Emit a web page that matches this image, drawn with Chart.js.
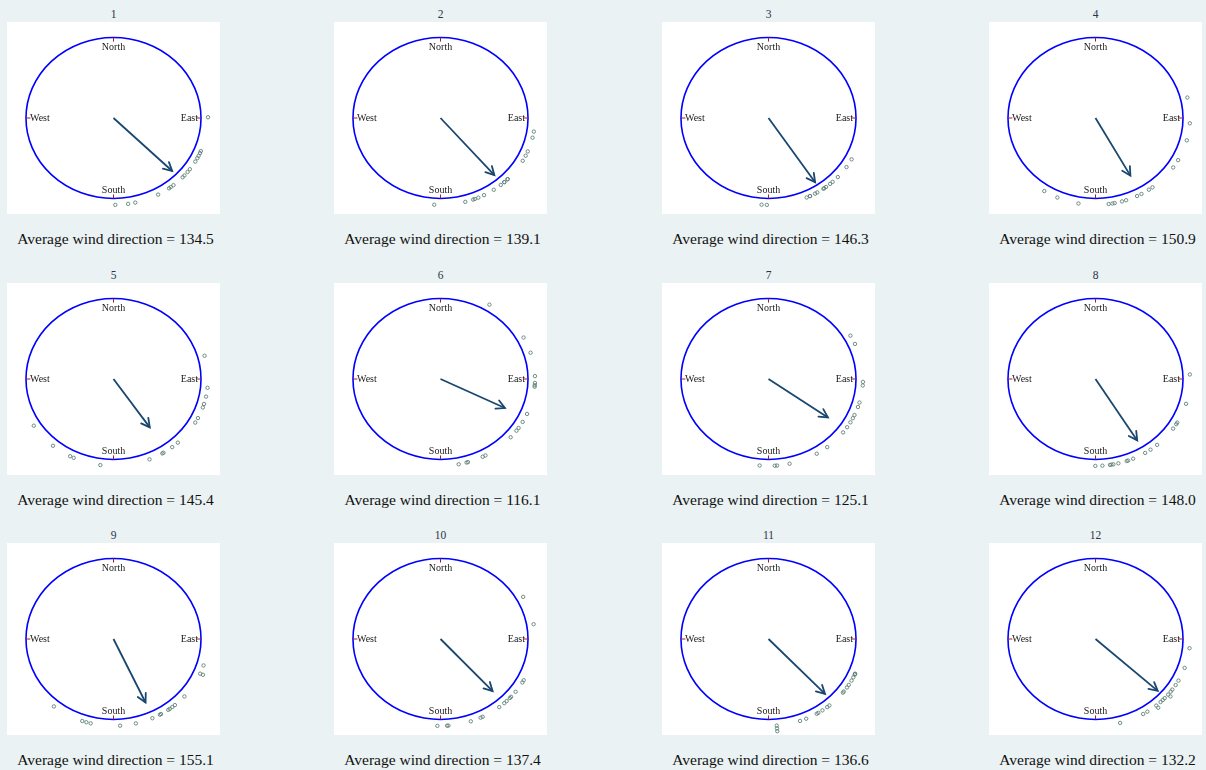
<!DOCTYPE html>
<html>
<head>
<meta charset="utf-8">
<script src="https://cdn.jsdelivr.net/npm/chart.js@4.4.0/dist/chart.umd.min.js"></script>
<style>
  html, body { margin: 0; padding: 0; }
  body {
    width: 1206px; height: 770px; overflow: hidden; position: relative;
    background: #eaf2f3;
    font-family: 'Liberation Serif', 'Times New Roman', serif;
  }
  .panel { position: absolute; width: 213px; height: 192px; }
  .panel canvas { position: absolute; left: 0; top: 0; background: #ffffff; }
  .num {
    position: absolute; left: 0; width: 213px; top: -16px; height: 16px;
    line-height: 16px; text-align: center; font-size: 11.5px; color: #2a3447;
  }
  .cap {
    position: absolute; left: -42px; width: 301px; top: 207px; height: 20px;
    line-height: 20px; text-align: center; font-size: 15.5px; color: #111111;
    white-space: nowrap;
  }
</style>
</head>
<body>
<script>
// Month panels and the summary statistics printed under each rose
const panelTitles = ['1', '2', '3', '4', '5', '6', '7', '8', '9', '10', '11', '12'];
const avgDirection = [134.5, 139.1, 146.3, 150.9, 145.4, 116.1, 125.1, 148.0, 155.1, 137.4, 136.6, 132.2];
const resultantLength = [0.94, 0.94, 0.96, 0.82, 0.73, 0.82, 0.83, 0.90, 0.87, 0.88, 0.94, 0.96];

// Observed wind directions (degrees clockwise from North) for each panel
const dir01 = [89.5, 112.4, 113.8, 115.8, 117.5, 120.1, 126.1, 128.4, 131.4, 133.0, 140.6, 142.7, 144.0, 151.8, 166.7, 171.1, 178.9];
const dir02 = [99.0, 103.1, 112.6, 115.7, 119.5, 134.7, 134.8, 137.5, 137.6, 140.4, 145.7, 152.6, 156.4, 158.7, 159.8, 164.8, 183.8];
const dir03 = [118.4, 124.4, 132.8, 137.3, 139.3, 142.5, 143.9, 144.5, 148.9, 150.5, 153.9, 154.0, 156.2, 181.0, 184.2];
const dir04 = [76.4, 93.5, 104.9, 119.0, 124.7, 142.9, 145.6, 150.9, 153.9, 161.1, 163.7, 168.3, 169.7, 172.0, 190.4, 203.8, 212.8];
const dir05 = [74.5, 95.8, 101.7, 106.7, 109.1, 116.7, 120.1, 137.1, 141.6, 148.1, 148.9, 157.6, 188.0, 204.9, 207.3, 219.8, 237.5];
const dir06 = [31.2, 61.5, 72.4, 88.1, 92.6, 94.1, 95.1, 113.7, 119.6, 124.3, 126.5, 132.1, 151.6, 153.5, 163.1, 164.0, 168.9];
const dir07 = [60.1, 66.2, 91.9, 94.3, 105.7, 108.8, 114.5, 116.8, 119.9, 123.7, 127.9, 141.6, 149.3, 167.1, 174.8, 176.2, 185.4];
const dir08 = [87.0, 106.6, 120.1, 121.3, 124.8, 139.3, 144.4, 148.3, 156.5, 159.8, 160.7, 166.0, 169.1, 170.3, 171.2, 175.8, 180.1];
const dir09 = [107.7, 113.5, 113.5, 131.4, 139.5, 141.5, 143.5, 144.6, 149.8, 150.6, 155.7, 166.3, 176.0, 194.0, 196.7, 199.3, 219.1];
const dir10 = [61.0, 80.2, 118.3, 120.0, 127.4, 131.7, 132.8, 135.6, 137.6, 141.6, 153.5, 154.9, 161.3, 175.2, 176.0, 181.9];
const dir11 = [113.6, 113.7, 114.2, 116.2, 118.6, 121.9, 123.9, 127.2, 128.1, 139.9, 141.6, 145.2, 148.2, 149.3, 156.5, 160.5, 175.0, 175.0, 175.0];
const dir12 = [96.1, 109.4, 118.6, 122.0, 125.6, 127.3, 129.8, 129.8, 132.9, 134.6, 136.5, 140.0, 140.0, 146.7, 149.7, 164.9];
const windDirections = [dir01, dir02, dir03, dir04, dir05, dir06, dir07, dir08, dir09, dir10, dir11, dir12];

const compassNames = ['North', 'East', 'South', 'West'];
const captionPrefix = 'Average wind direction = ';

// Grid of panels on the page
const COLS = 4;
const colLeft = [7, 334, 662, 989];
const rowTop = [22, 283, 543];
const BOX_W = 213, BOX_H = 192;

// Axis extents chosen so the unit circle sits inside the white plot box
const X_EXT = 1.217, Y_EXT = 1.193;
const DOT_RING = 1.08, DOT_STEP = 0.035;

const rad = d => d * Math.PI / 180;

// Unit circle, compass ticks/labels and arrowhead, drawn in scale units
const compassPlugin = {
  id: 'compass',
  beforeDatasetsDraw(chart) {
    const { ctx, scales: { x, y } } = chart;
    const cx = x.getPixelForValue(0), cy = y.getPixelForValue(0);
    const rx = Math.abs(x.getPixelForValue(1) - cx);
    const ry = Math.abs(y.getPixelForValue(1) - cy);
    ctx.save();
    ctx.strokeStyle = '#0000ff';
    ctx.lineWidth = 1.6;
    ctx.beginPath();
    ctx.ellipse(cx, cy, rx, ry, 0, 0, Math.PI * 2);
    ctx.stroke();

    // short inward ticks at the four cardinal points
    ctx.strokeStyle = '#a01e24';
    ctx.lineWidth = 1;
    const t = 0.05;
    const ticks = [[0, 1, 0, 1 - t], [1, 0, 1 - t, 0], [0, -1, 0, -1 + t], [-1, 0, -1 + t, 0]];
    ticks.forEach(([x0, y0, x1, y1]) => {
      ctx.beginPath();
      ctx.moveTo(x.getPixelForValue(x0), y.getPixelForValue(y0));
      ctx.lineTo(x.getPixelForValue(x1), y.getPixelForValue(y1));
      ctx.stroke();
    });

    ctx.fillStyle = '#1a1a1a';
    ctx.font = '10px "Liberation Serif", "Times New Roman", serif';
    ctx.textBaseline = 'middle';
    ctx.textAlign = 'center';
    ctx.fillText(compassNames[0], cx, y.getPixelForValue(1) + 9.5);
    ctx.fillText(compassNames[2], cx, y.getPixelForValue(-1) - 8);
    ctx.textAlign = 'left';
    ctx.fillText(compassNames[3], x.getPixelForValue(-1) + 4, cy + 0.5);
    ctx.textAlign = 'right';
    ctx.fillText(compassNames[1], x.getPixelForValue(1) - 3, cy + 0.5);
    ctx.restore();
  },
  afterDatasetsDraw(chart) {
    const { ctx } = chart;
    const meta = chart.getDatasetMeta(1);
    if (!meta || meta.data.length < 2) return;
    const p0 = meta.data[0], p1 = meta.data[1];
    const ang = Math.atan2(p1.y - p0.y, p1.x - p0.x);
    const len = 9.5, spread = rad(28);
    ctx.save();
    ctx.strokeStyle = '#1a476f';
    ctx.lineWidth = 1.8;
    ctx.lineCap = 'round';
    ctx.beginPath();
    ctx.moveTo(p1.x - len * Math.cos(ang - spread), p1.y - len * Math.sin(ang - spread));
    ctx.lineTo(p1.x, p1.y);
    ctx.lineTo(p1.x - len * Math.cos(ang + spread), p1.y - len * Math.sin(ang + spread));
    ctx.stroke();
    ctx.restore();
  }
};

// Place each observation just outside the circle; repeated directions stack outward
function dotsFor(dirs) {
  const seen = {};
  return dirs.map(d => {
    const key = d.toFixed(1);
    const k = seen[key] || 0;
    seen[key] = k + 1;
    const r = DOT_RING + DOT_STEP * k;
    return { x: r * Math.sin(rad(d)), y: r * Math.cos(rad(d)) };
  });
}

panelTitles.forEach((title, i) => {
  const col = i % COLS, row = Math.floor(i / COLS);
  const panel = document.createElement('div');
  panel.className = 'panel';
  panel.style.left = colLeft[col] + 'px';
  panel.style.top = rowTop[row] + 'px';

  const num = document.createElement('div');
  num.className = 'num';
  num.textContent = title;
  panel.appendChild(num);

  const canvas = document.createElement('canvas');
  canvas.width = BOX_W;
  canvas.height = BOX_H;
  canvas.style.width = BOX_W + 'px';
  canvas.style.height = BOX_H + 'px';
  panel.appendChild(canvas);

  const cap = document.createElement('div');
  cap.className = 'cap';
  cap.textContent = captionPrefix + avgDirection[i].toFixed(1);
  panel.appendChild(cap);

  document.body.appendChild(panel);

  const th = rad(avgDirection[i]);
  const L = resultantLength[i];

  new Chart(canvas, {
    type: 'scatter',
    data: {
      datasets: [
        {
          type: 'scatter',
          data: dotsFor(windDirections[i]),
          pointStyle: 'circle',
          pointRadius: 1.7,
          borderWidth: 0.9,
          borderColor: '#5f8277',
          backgroundColor: 'rgba(255,255,255,0)',
          clip: false
        },
        {
          type: 'line',
          data: [{ x: 0, y: 0 }, { x: L * Math.sin(th), y: L * Math.cos(th) }],
          borderColor: '#1a476f',
          borderWidth: 1.8,
          pointRadius: 0,
          fill: false,
          showLine: true,
          clip: false
        }
      ]
    },
    options: {
      responsive: false,
      maintainAspectRatio: false,
      animation: false,
      events: [],
      layout: { padding: 0, autoPadding: false },
      plugins: { legend: { display: false }, tooltip: { enabled: false }, title: { display: false } },
      scales: {
        x: { type: 'linear', display: false, min: -X_EXT, max: X_EXT },
        y: { type: 'linear', display: false, min: -Y_EXT, max: Y_EXT }
      }
    },
    plugins: [compassPlugin]
  });
});
</script>
</body>
</html>
